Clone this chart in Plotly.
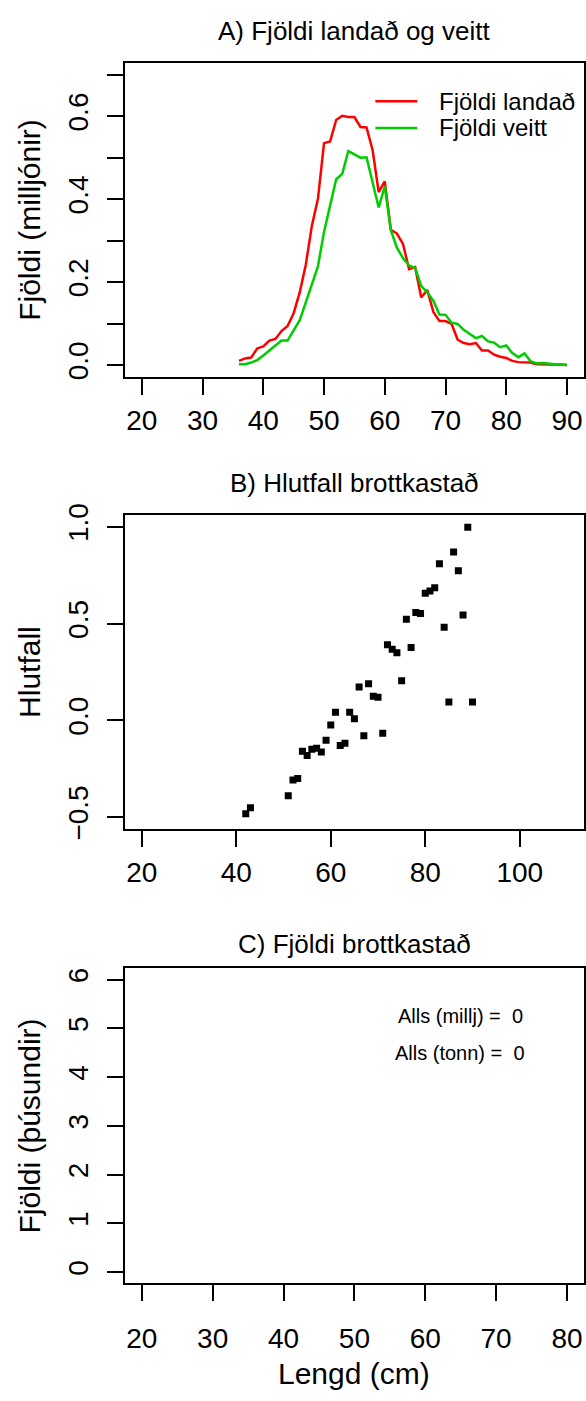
import plotly.graph_objects as go

# ---------------- data ----------------
lengths_a = list(range(36, 91))
landad = [0.010, 0.016, 0.018, 0.040, 0.045, 0.059, 0.063, 0.082, 0.094, 0.125,
          0.175, 0.242, 0.336, 0.401, 0.535, 0.539, 0.591, 0.601, 0.598, 0.598,
          0.574, 0.573, 0.518, 0.417, 0.443, 0.326, 0.317, 0.292, 0.231, 0.236,
          0.163, 0.181, 0.128, 0.106, 0.106, 0.099, 0.061, 0.053, 0.050, 0.053,
          0.035, 0.035, 0.025, 0.020, 0.017, 0.010, 0.007, 0.006, 0.006, 0.002,
          0.001, 0.001, 0.001, 0.001, 0.000]
veitt = [0.002, 0.002, 0.006, 0.012, 0.023, 0.035, 0.047, 0.059, 0.059, 0.084,
         0.108, 0.151, 0.196, 0.238, 0.321, 0.388, 0.448, 0.461, 0.516, 0.508,
         0.500, 0.501, 0.443, 0.380, 0.431, 0.325, 0.283, 0.258, 0.240, 0.234,
         0.191, 0.175, 0.155, 0.122, 0.121, 0.102, 0.099, 0.085, 0.075, 0.065,
         0.070, 0.057, 0.054, 0.043, 0.047, 0.029, 0.019, 0.028, 0.009, 0.004,
         0.005, 0.003, 0.002, 0.001, 0.000]

lengths_b = [42, 43, 51, 52, 53, 54, 55, 56, 57, 58, 59, 60, 61, 62, 63, 64, 65,
             66, 67, 68, 69, 70, 71, 72, 73, 74, 75, 76, 77, 78, 79, 80, 81, 82,
             83, 84, 85, 86, 87, 88, 89, 90]
hlutfall = [-0.482, -0.452, -0.389, -0.308, -0.300, -0.159, -0.181, -0.149,
            -0.144, -0.164, -0.103, -0.024, 0.042, -0.130, -0.118, 0.042, 0.009,
            0.173, -0.080, 0.189, 0.125, 0.120, -0.066, 0.391, 0.367, 0.350,
            0.205, 0.523, 0.376, 0.558, 0.552, 0.657, 0.668, 0.685, 0.809,
            0.481, 0.095, 0.870, 0.773, 0.545, 0.998, 0.095]

alls_millj = 0
alls_tonn = 0

series_names = ["Fjöldi landað", "Fjöldi veitt"]
series_colors = ["#FF0000", "#00CD00"]

# tick labels
xticks_a = [20, 30, 40, 50, 60, 70, 80, 90]
yticks_a = [0.0, 0.1, 0.2, 0.3, 0.4, 0.5, 0.6, 0.7]
yticktext_a = ["0.0", "", "0.2", "", "0.4", "", "0.6", ""]
xticks_b = [20, 40, 60, 80, 100]
yticks_b = [-0.5, 0.0, 0.5, 1.0]
yticktext_b = ["\u22120.5", "0.0", "0.5", "1.0"]
xticks_c = [20, 30, 40, 50, 60, 70, 80]
yticks_c = [0, 1, 2, 3, 4, 5, 6]

# ---------------- figure ----------------
W, H = 586, 1401
FONT = "Liberation Sans, Arial, sans-serif"
TICK = 28


def py(p):
    return 1 - p / H


fig = go.Figure()

fig.add_trace(go.Scatter(x=lengths_a, y=landad, mode="lines", name=series_names[0],
                         line=dict(color=series_colors[0], width=2.5), xaxis="x", yaxis="y"))
fig.add_trace(go.Scatter(x=lengths_a, y=veitt, mode="lines", name=series_names[1],
                         line=dict(color=series_colors[1], width=2.5), xaxis="x", yaxis="y"))
fig.add_trace(go.Scatter(x=lengths_b, y=hlutfall, mode="markers",
                         marker=dict(symbol="square", size=7, color="black"),
                         xaxis="x2", yaxis="y2"))
fig.add_trace(go.Scatter(x=[None], y=[None], mode="markers", xaxis="x3", yaxis="y3"))

xdom = [125 / W, 585 / W]
axis_common = dict(showline=True, linecolor="black", linewidth=2, mirror=True,
                   ticks="outside", ticklen=16, tickwidth=2, tickcolor="black",
                   showgrid=False, zeroline=False,
                   tickfont=dict(family=FONT, size=TICK, color="black"))

fig.update_layout(
    width=W, height=H,
    margin=dict(l=0, r=0, t=0, b=0),
    paper_bgcolor="white", plot_bgcolor="white",
    font=dict(family=FONT, color="black"),
    showlegend=False,
    xaxis=dict(domain=xdom, range=[17.2, 92.8], tickvals=xticks_a, anchor="y",
               ticklabelstandoff=2, **axis_common),
    yaxis=dict(domain=[py(371), py(52)], range=[-0.028, 0.728], tickvals=yticks_a,
               ticktext=yticktext_a, tickangle=-90, anchor="x", ticklabelstandoff=8,
               **axis_common),
    xaxis2=dict(domain=xdom, range=[16.4, 113.6], tickvals=xticks_b, anchor="y2",
                ticklabelstandoff=2, **axis_common),
    yaxis2=dict(domain=[py(831), py(512)], range=[-0.56, 1.06], tickvals=yticks_b,
                ticktext=yticktext_b, tickangle=-90, anchor="x2", ticklabelstandoff=8,
                **axis_common),
    xaxis3=dict(domain=xdom, range=[17.6, 82.4], tickvals=xticks_c, anchor="y3",
                ticklabelstandoff=14, **axis_common),
    yaxis3=dict(domain=[py(1293), py(973)], range=[-0.22, 6.23], tickvals=yticks_c,
                tickangle=-90, anchor="x3", ticklabelstandoff=8, **axis_common),
)

# manual legend for panel A
leg_y = [90.7, 118]
for name, col, yy in zip(series_names, series_colors, leg_y):
    fig.add_shape(type="line", xref="paper", yref="paper", x0=376 / W, x1=418 / W,
                  y0=py(yy), y1=py(yy), line=dict(color=col, width=2.5))
    fig.add_annotation(text=name, xref="paper", x=438 / W, yref="paper", y=py(yy),
                       xanchor="left", yanchor="middle", showarrow=False,
                       font=dict(family=FONT, size=24, color="black"))

TITLE = 26
annots = [
    dict(text="A) Fjöldi landað og veitt", xref="x domain", x=0.5, yref="paper", y=py(19),
         font=dict(size=TITLE)),
    dict(text="B) Hlutfall brottkastað", xref="x2 domain", x=0.5, yref="paper", y=py(479),
         font=dict(size=TITLE)),
    dict(text="C) Fjöldi brottkastað", xref="x3 domain", x=0.5, yref="paper", y=py(948),
         font=dict(size=TITLE)),
    dict(text="Fjöldi (milljónir)", xref="paper", x=30 / W, yref="y domain", y=0.5,
         textangle=-90, font=dict(size=30)),
    dict(text="Hlutfall", xref="paper", x=30 / W, yref="y2 domain", y=0.5,
         textangle=-90, font=dict(size=30)),
    dict(text="Fjöldi (þúsundir)", xref="paper", x=30 / W, yref="y3 domain", y=0.5,
         textangle=-90, font=dict(size=30)),
    dict(text="Lengd (cm)", xref="x3 domain", x=0.5, yref="paper", y=py(1385),
         font=dict(size=30)),
    dict(text=f"Alls (millj) =  {alls_millj}", xref="paper", x=461 / W, yref="paper",
         y=py(1021), font=dict(size=20)),
    dict(text=f"Alls (tonn) =  {alls_tonn}", xref="paper", x=461 / W, yref="paper",
         y=py(1059), font=dict(size=20)),
]
for a in annots:
    a.setdefault("showarrow", False)
    a.setdefault("xanchor", "center")
    a.setdefault("yanchor", "middle")
    a["font"] = dict(family=FONT, color="black", **a["font"])
    fig.add_annotation(**a)

fig.write_html(
    "out.html",
    config={"displayModeBar": False},
    post_script="document.body.style.margin='0px';document.body.style.overflow='hidden';",
)
